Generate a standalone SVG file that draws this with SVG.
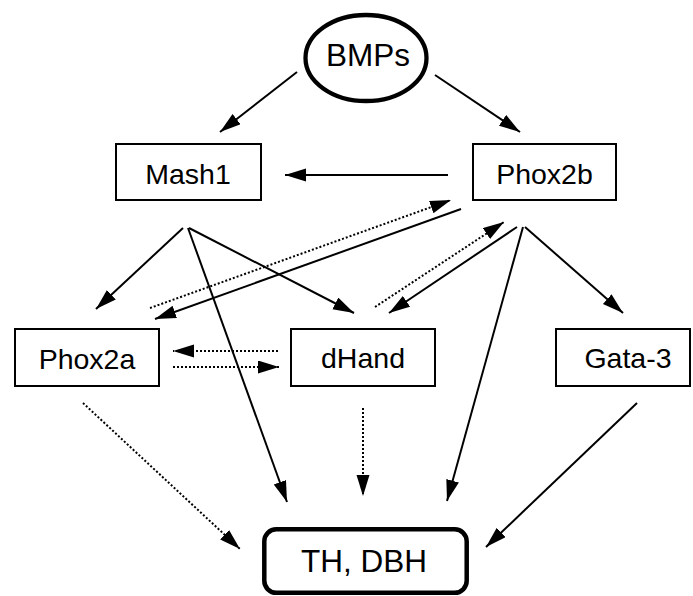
<svg xmlns="http://www.w3.org/2000/svg" width="693" height="596" viewBox="0 0 693 596">
<style>
  .box { fill: #fff; stroke: #000; stroke-width: 2; }
  .lbl { font-family: "Liberation Sans", Arial, sans-serif; font-size: 28.5px; fill: #000; text-anchor: middle; }
  .big { font-size: 31.5px; }
  .arr { stroke: #000; stroke-width: 2; fill: none; marker-end: url(#ah); }
  .dot { stroke-dasharray: 2 2; }
</style>
<defs>
  <marker id="ah" markerUnits="userSpaceOnUse" markerWidth="22" markerHeight="14" refX="21" refY="6.5" orient="auto">
    <path d="M0,0 L21,6.5 L0,13 Z" fill="#000"/>
  </marker>
</defs>
<rect width="693" height="596" fill="#fff"/>
<g id="connectors">
  <line class="arr" x1="297" y1="72" x2="220" y2="132"/>
  <line class="arr" x1="435" y1="75" x2="520" y2="132"/>
  <line class="arr" x1="448" y1="175" x2="285" y2="175"/>
  <line class="arr" x1="183" y1="228" x2="96" y2="309"/>
  <line class="arr" x1="188" y1="228" x2="287" y2="502"/>
  <line class="arr" x1="189" y1="228" x2="354" y2="313"/>
  <line class="arr dot" x1="150" y1="308" x2="451" y2="200"/>
  <line class="arr" x1="461" y1="209" x2="155" y2="319"/>
  <line class="arr dot" x1="375" y1="307" x2="504" y2="222"/>
  <line class="arr" x1="517" y1="227" x2="389" y2="313"/>
  <line class="arr" x1="523" y1="227" x2="447" y2="501"/>
  <line class="arr" x1="525" y1="227" x2="623" y2="313"/>
  <line class="arr dot" x1="278" y1="351" x2="173" y2="351"/>
  <line class="arr dot" x1="173" y1="367" x2="279" y2="367"/>
  <line class="arr dot" x1="83" y1="403" x2="240" y2="549"/>
  <line class="arr dot" x1="363" y1="408" x2="363" y2="496"/>
  <line class="arr" x1="637" y1="403" x2="486" y2="547"/>
</g>
<g id="BMPs">
  <ellipse cx="366" cy="58" rx="60.5" ry="43" fill="#fff" stroke="#000" stroke-width="4.3"/>
  <text class="lbl big" x="368" y="66">BMPs</text>
</g>
<g id="Mash1">
  <rect class="box" x="116" y="144" width="145" height="56"/>
  <text class="lbl" x="188" y="184">Mash1</text>
</g>
<g id="Phox2b">
  <rect class="box" x="473" y="144" width="143" height="56"/>
  <text class="lbl" x="544.5" y="184">Phox2b</text>
</g>
<g id="Phox2a">
  <rect class="box" x="15" y="329" width="144" height="57"/>
  <text class="lbl" x="87" y="369">Phox2a</text>
</g>
<g id="dHand">
  <rect class="box" x="291" y="329" width="144" height="57"/>
  <text class="lbl" x="363" y="368">dHand</text>
</g>
<g id="Gata-3">
  <rect class="box" x="556" y="329" width="134" height="57"/>
  <text class="lbl" x="628" y="368">Gata-3</text>
</g>
<g id="TH-DBH">
  <rect x="264.3" y="529.3" width="202.4" height="63.5" rx="12" ry="12" fill="#fff" stroke="#000" stroke-width="4.5"/>
  <text class="lbl big" x="364" y="572">TH, DBH</text>
</g>
</svg>
